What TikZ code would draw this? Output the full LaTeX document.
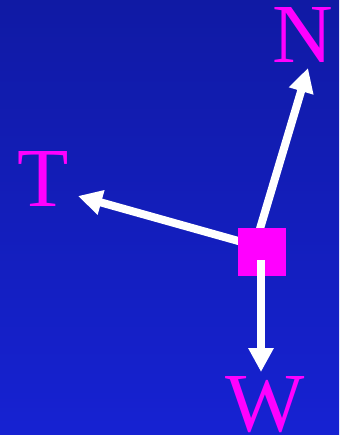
\documentclass[tikz,border=0pt]{standalone}
\usepackage{fontspec}
\setmainfont{Liberation Serif}
\usetikzlibrary{arrows.meta}
\definecolor{bgtop}{RGB}{16,26,164}
\definecolor{bgbot}{RGB}{22,34,210}
\definecolor{mag}{RGB}{255,0,255}
\tikzset{
  force/.style={draw=white, line width=8pt, -{Triangle[length=24pt,width=24pt]}},
  lbl/.style={text=mag, inner sep=0pt, anchor=base, font=\fontsize{84}{84}\selectfont},
  body/.style={fill=mag, draw=none, minimum size=48pt, inner sep=0pt}
}
\begin{document}
\begin{tikzpicture}[x=1pt,y=-1pt]
  \useasboundingbox (0,0) rectangle (339,435);
  \shade[top color=bgtop, bottom color=bgbot] (0,0) rectangle (339,435);
  \node[lbl] (N) at (303,63) {N};
  \node[lbl] (T) at (43.5,207) {T};
  \node[lbl] (W) at (265,431) {W};
  \coordinate (nstart) at (259,232);
  \coordinate (tstart) at (242,242);
  \coordinate (ntip) at (308,68);
  \coordinate (ttip) at (78,196);
  \coordinate (wtip) at (261,372);
  \draw[force] (nstart) -- (ntip);
  \draw[force] (tstart) -- (ttip);
  \node[body] (sq) at (262,252) {};
  \coordinate (wstart) at (261,260);
  \draw[force] (wstart) -- (wtip);
\end{tikzpicture}
\end{document}
